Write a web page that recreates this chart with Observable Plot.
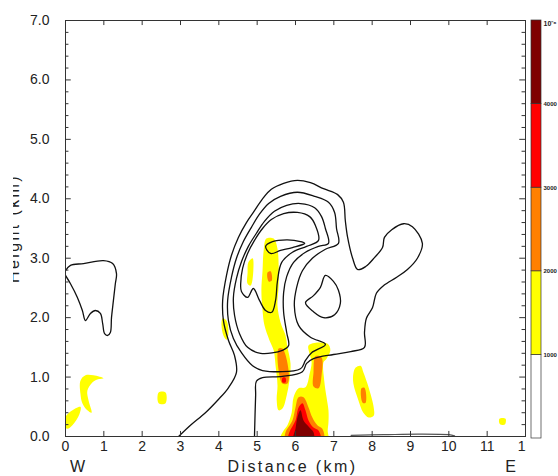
<!DOCTYPE html>
<html><head><meta charset="utf-8">
<script src="https://cdn.jsdelivr.net/npm/d3@7"></script>
<script src="https://cdn.jsdelivr.net/npm/@observablehq/plot@0.6"></script>
<style>
html,body{margin:0;padding:0;background:#fff;overflow:hidden;}
#wrap{position:relative;width:558px;height:476px;}
#main{position:absolute;left:0;top:0;}
#cbar{position:absolute;left:526px;top:0;}
#mask{position:absolute;left:0;top:0;width:13px;height:476px;background:#fff;}
</style></head><body>
<div id="wrap"><div id="main"></div><div id="mask"></div><div id="cbar"></div></div>
<script>
// ---- axis ticks ----
const xTicks = [0,1,2,3,4,5,6,7,8,9,10,11,12];
const yTicks = [0,1,2,3,4,5,6,7];
const yMinorTicks = [0.2,0.4,0.6,0.8,1.2,1.4,1.6,1.8,2.2,2.4,2.6,2.8,3.2,3.4,3.6,3.8,4.2,4.4,4.6,4.8,5.2,5.4,5.6,5.8,6.2,6.4,6.6,6.8];

// ---- colorbar ----
const cbarLevels = [0, 1000, 2000, 3000, 4000, 5000];
const cbarColors = ["#ffffff", "#ffff00", "#ff8000", "#ff0000", "#7f0000"];
const cbarLabels = [1000, 2000, 3000, 4000];

// ---- contour lines (km, km) ----
const contourOuter = [[2.95,0.00],[3.26,0.19],[3.65,0.40],[3.97,0.61],[4.25,0.82],[4.46,1.08],[4.41,1.36],[4.25,1.62],[4.12,1.95],[4.10,2.29],[4.20,2.71],[4.33,3.05],[4.51,3.35],[4.72,3.60],[4.93,3.80],[5.14,4.00],[5.37,4.16],[5.69,4.26],[6.05,4.31],[6.39,4.27],[6.73,4.17],[7.10,4.07],[7.25,3.94],[7.30,3.63],[7.36,3.35],[7.49,3.00],[7.62,2.81],[7.83,2.86],[8.06,3.01],[8.27,3.18],[8.32,3.35],[8.51,3.48],[8.82,3.58],[9.05,3.53],[9.31,3.25],[9.18,3.00],[8.92,2.81],[8.64,2.68],[8.30,2.54],[8.11,2.41],[8.01,2.17],[7.85,1.99],[7.80,1.75],[7.80,1.50],[7.44,1.43],[6.99,1.38],[6.47,1.31],[6.29,1.23],[6.18,1.09],[5.66,1.01],[5.14,0.99],[4.98,0.93],[4.96,0.69],[4.93,0.00]];
const contourWest = [[0.00,2.79],[0.13,2.88],[0.47,2.91],[0.99,2.96],[1.23,2.91],[1.33,2.74],[1.30,2.57],[1.25,2.29],[1.20,2.00],[1.17,1.75],[1.10,1.70],[1.02,1.73],[0.97,1.90],[0.91,2.07],[0.78,2.12],[0.65,2.07],[0.52,1.95],[0.44,2.12],[0.31,2.34],[0.13,2.57],[0.00,2.71]];
const contourGround = [[7.45,0.02],[8.30,0.03],[9.20,0.04],[10.00,0.03],[10.15,0.01]];
const contourB = [[6.78,1.55],[6.42,1.41],[6.26,1.28],[6.13,1.14],[5.14,1.11],[4.88,1.19],[4.59,1.41],[4.38,1.65],[4.25,1.95],[4.23,2.29],[4.33,2.68],[4.46,3.00],[4.64,3.28],[4.85,3.52],[5.06,3.74],[5.30,3.92],[5.61,4.04],[6.05,4.11],[6.50,4.04],[6.86,3.94],[7.02,3.77],[7.07,3.50],[7.12,3.25],[6.78,3.15],[6.44,3.00],[6.18,2.79],[6.03,2.51],[5.97,2.20],[6.08,1.87],[6.39,1.67]];
const contourC = [[5.66,1.45],[5.09,1.40],[4.75,1.50],[4.54,1.73],[4.41,2.04],[4.38,2.34],[4.46,2.66],[4.59,2.94],[4.77,3.20],[4.98,3.42],[5.19,3.62],[5.45,3.79],[5.77,3.89],[6.13,3.92],[6.50,3.85],[6.68,3.70],[6.78,3.50],[6.86,3.25],[6.60,3.20],[6.26,3.10],[5.95,2.93],[5.77,2.69],[5.69,2.42],[5.69,2.09],[5.77,1.75],[5.82,1.53]];
const contourD = [[4.57,2.57],[4.62,2.83],[4.75,3.08],[4.93,3.30],[5.14,3.50],[5.37,3.65],[5.69,3.75],[6.05,3.77],[6.37,3.70],[6.52,3.55],[6.60,3.30],[6.29,3.20],[5.92,3.10],[5.64,2.93],[5.53,2.62],[5.48,2.29],[5.38,2.09],[5.22,2.12],[5.06,2.29],[4.90,2.49],[4.75,2.34],[4.59,2.44]];
const contourE = [[5.22,3.20],[5.40,3.28],[5.79,3.31],[6.13,3.28],[6.24,3.25],[5.92,3.18],[5.61,3.13],[5.35,3.08]];
const contourHole = [[6.78,2.71],[6.99,2.61],[7.12,2.46],[7.17,2.24],[7.02,2.05],[6.73,2.00],[6.47,2.10],[6.26,2.25],[6.47,2.37],[6.65,2.51]];

// ---- filled regions (km, km) ----
const yellowAreas = [
  [[0.00,0.15],[0.00,0.33],[0.15,0.43],[0.39,0.50],[0.36,0.37],[0.18,0.19],[0.05,0.13]],
  [[0.39,0.94],[0.52,1.03],[0.73,1.03],[0.99,0.98],[0.83,0.96],[0.70,0.91],[0.57,0.77],[0.60,0.61],[0.68,0.40],[0.57,0.44],[0.44,0.56],[0.39,0.72]],
  [[2.43,0.74],[2.61,0.74],[2.61,0.56],[2.43,0.56]],
  [[11.32,0.30],[11.48,0.30],[11.46,0.20],[11.33,0.21]],
  [[7.57,1.16],[7.70,1.19],[7.77,1.08],[7.91,0.82],[8.04,0.49],[8.04,0.35],[7.91,0.32],[7.77,0.40],[7.64,0.61],[7.51,0.89],[7.51,1.06]],
  [[4.10,1.99],[4.20,1.95],[4.25,1.73],[4.20,1.63],[4.12,1.70],[4.07,1.87]],
  [[4.77,2.93],[4.88,3.00],[4.90,2.79],[4.83,2.54],[4.75,2.57],[4.75,2.76]],
  [[5.24,3.33],[5.17,3.13],[5.14,2.79],[5.11,2.46],[5.14,2.12],[5.19,1.87],[5.32,1.62],[5.43,1.45],[5.48,1.19],[5.53,0.86],[5.51,0.61],[5.56,0.44],[5.66,0.47],[5.77,0.69],[5.84,0.94],[5.87,1.23],[5.79,1.50],[5.74,1.70],[5.61,1.92],[5.53,2.20],[5.56,2.54],[5.56,2.88],[5.53,3.16],[5.43,3.33]],
  [[6.34,1.53],[6.60,1.58],[6.84,1.56],[6.91,1.45],[6.81,1.31],[6.73,1.25],[6.75,0.94],[6.81,0.66],[6.86,0.44],[6.86,0.24],[6.84,0.10],[6.84,-0.05],[5.61,-0.05],[5.69,0.10],[5.79,0.19],[5.90,0.40],[5.95,0.66],[6.08,0.81],[6.26,0.83],[6.37,1.06],[6.42,1.25],[6.36,1.41]]
];
const orangeAreas = [
  [[7.72,0.81],[7.80,0.82],[7.83,0.57],[7.75,0.57]],
  [[5.56,1.48],[5.66,1.48],[5.82,1.11],[5.79,0.89],[5.66,0.89],[5.56,1.11]],
  [[5.27,2.76],[5.35,2.78],[5.38,2.62],[5.30,2.61]],
  [[6.52,1.35],[6.68,1.33],[6.68,1.03],[6.60,0.81],[6.47,0.84],[6.47,1.08]],
  [[5.74,-0.05],[5.74,0.07],[5.92,0.27],[6.00,0.49],[6.08,0.66],[6.21,0.66],[6.34,0.49],[6.44,0.32],[6.57,0.19],[6.70,0.13],[6.73,-0.05]]
];
const redAreas = [
  [[5.66,0.99],[5.74,0.99],[5.74,0.91],[5.66,0.91]],
  [[5.82,-0.05],[5.84,0.07],[6.00,0.27],[6.08,0.49],[6.18,0.56],[6.26,0.44],[6.34,0.27],[6.47,0.15],[6.60,0.10],[6.65,-0.05]]
];
const darkRedAreas = [
  [[5.95,-0.05],[6.00,0.13],[6.05,0.32],[6.13,0.44],[6.21,0.27],[6.34,0.17],[6.47,0.07],[6.47,-0.05]]
];

// ---- helpers ----
const rows = (shapes) => shapes.flatMap((s, i) => s.map(([x, y]) => ({x, y, id: i})));
const fillArea = (shapes, color) => Plot.line(rows(shapes), {x: "x", y: "y", z: "id", fill: color, stroke: "none", curve: "catmull-rom-closed", clip: true});
const closedLines = rows([contourB, contourC, contourD, contourE, contourHole]);
const openLines = rows([contourOuter, contourWest]);

const font = "Liberation Sans, Arial, Helvetica, sans-serif";
const ink = "#222";

const main = Plot.plot({
  width: 558, height: 476,
  marginLeft: 65, marginRight: 33, marginTop: 20, marginBottom: 40,
  x: {domain: [0, 12], axis: null},
  y: {domain: [0, 7], axis: null},
  style: {fontFamily: font, background: "white", color: ink, overflow: "visible"},
  marks: [
    fillArea(yellowAreas, "#ffff00"),
    fillArea(orangeAreas, "#ff8000"),
    fillArea(redAreas, "#ff0000"),
    fillArea(darkRedAreas, "#7f0000"),
    Plot.line(rows([contourGround]), {x: "x", y: "y", z: "id", stroke: "#555", strokeWidth: 1.2, curve: "catmull-rom"}),
    Plot.line(openLines, {x: "x", y: "y", z: "id", stroke: "#111", strokeWidth: 1.3, curve: "catmull-rom", clip: true}),
    Plot.line(closedLines, {x: "x", y: "y", z: "id", stroke: "#111", strokeWidth: 1.3, curve: "catmull-rom-closed"}),
    Plot.frame({stroke: "#333"}),
    Plot.ruleX(xTicks, {x: d => d, y1: 0, y2: 0.085, stroke: "#333"}),
    Plot.ruleX(xTicks, {x: d => d, y1: 7, y2: 6.915, stroke: "#333"}),
    Plot.ruleY(yTicks, {y: d => d, x1: 0, x2: 0.15, stroke: "#333"}),
    Plot.ruleY(yMinorTicks, {y: d => d, x1: 0, x2: 0.09, stroke: "#333"}),
    Plot.ruleY(yTicks, {y: d => d, x1: 12, x2: 11.85, stroke: "#333"}),
    Plot.ruleY(yMinorTicks, {y: d => d, x1: 12, x2: 11.91, stroke: "#333"}),
    Plot.axisX({ticks: xTicks, tickSize: 0, tickPadding: 5, fontSize: 14, label: null, tickFormat: d => String(d)}),
    Plot.axisY({ticks: yTicks, tickSize: 0, tickPadding: 16, fontSize: 14, label: null, tickFormat: d => d.toFixed(1)}),
    Plot.text(["Distance (km)"], {frameAnchor: "bottom", dx: -3, dy: 30, fontSize: 16, textAnchor: "middle", lineAnchor: "middle"}),
    Plot.text(["W"], {frameAnchor: "bottom-left", dx: 12, dy: 30, fontSize: 16, textAnchor: "middle", lineAnchor: "middle"}),
    Plot.text(["E"], {frameAnchor: "bottom-right", dx: -15, dy: 30, fontSize: 16, textAnchor: "middle", lineAnchor: "middle"}),
    Plot.text(["Height (km)"], {frameAnchor: "left", dx: -52, rotate: -90, fontSize: 16, textAnchor: "middle"})
  ]
});
d3.select(main).selectAll("text")
  .filter(function() { return this.textContent === "Distance (km)" || this.textContent === "Height (km)"; })
  .style("letter-spacing", "2.4px");
document.getElementById("main").appendChild(main);

const cbarRows = cbarColors.map((c, i) => ({lo: cbarLevels[i], hi: cbarLevels[i + 1], color: c}));
const cbar = Plot.plot({
  width: 32, height: 476,
  marginLeft: 5, marginRight: 17, marginTop: 20, marginBottom: 38,
  x: {domain: [0, 1], axis: null},
  y: {domain: [cbarLevels[0], cbarLevels[cbarLevels.length - 1]], axis: null},
  color: {type: "identity"},
  style: {fontFamily: font, background: "white", color: ink, overflow: "visible"},
  marks: [
    Plot.rect(cbarRows, {x1: 0, x2: 1, y1: "lo", y2: "hi", fill: "color", stroke: "#333", strokeWidth: 0.7}),
    Plot.axisY({anchor: "right", ticks: cbarLabels, tickSize: 0, tickPadding: 2, fontSize: 6, fontWeight: "bold", label: null, tickFormat: d => String(d)}),
    Plot.text(["10⁻⁶"], {frameAnchor: "top-right", dx: 2, dy: 1, textAnchor: "start", fontSize: 7, fontWeight: "bold"})
  ]
});
document.getElementById("cbar").appendChild(cbar);
</script></body></html>
